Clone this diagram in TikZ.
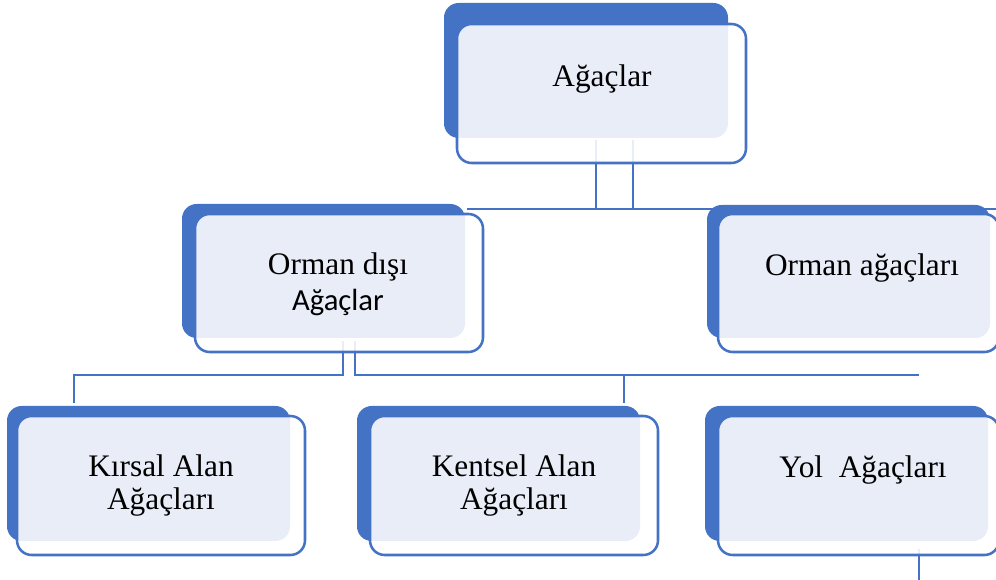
\documentclass[tikz,border=0pt]{standalone}
\usepackage{fontspec}
\setmainfont{Liberation Serif}
\newfontfamily\calib{Carlito}
\usetikzlibrary{fit}
\definecolor{accent}{HTML}{4472C4}
\begin{document}
\begin{tikzpicture}[x=0.75pt,y=-0.75pt,
  back/.style={fill=accent, draw=none, rounded corners=11pt, inner sep=0pt},
  front/.style={fill=white, fill opacity=0.88, draw=accent, line width=1.9pt, rounded corners=11pt, inner sep=0pt},
  conn/.style={draw=accent, line width=1.6pt},
  thinconn/.style={draw=accent, line width=0.9pt},
  lbl/.style={font=\fontsize{23.5}{24.75}\selectfont, text=black, inner sep=0pt, align=center}]
\useasboundingbox (0,0) rectangle (996,580);
% connector points
\coordinate (p1) at (596,140); \coordinate (p2) at (596,209);
\coordinate (p3) at (633,140); \coordinate (p4) at (633,209);
\coordinate (h1) at (467,209); \coordinate (h2) at (998,209);
\coordinate (q1) at (343,341); \coordinate (q2) at (343,375);
\coordinate (q3) at (74,375);  \coordinate (q4) at (74,403);
\coordinate (r1) at (355,341); \coordinate (r2) at (355,375);
\coordinate (r3) at (624,375); \coordinate (r4) at (624,403);
\coordinate (s1) at (919,375);
\coordinate (u1) at (919,549); \coordinate (u2) at (919,582);
% connectors
\draw[conn] (p1) -- (p2);
\draw[conn] (p3) -- (p4);
\draw[conn] (h1) -- (h2);
\draw[conn] (q1) -- (q2) -- (q3) -- (q4);
\draw[conn] (r1) -- (r2) -- (r3) -- (r4);
\draw[thinconn] (r3) -- (s1);
\draw[thinconn] (u1) -- (u2);
% back shapes
\node[back, fit={(444,3) (728,138)}] (b1) {};
\node[back, fit={(182,204) (465,338)}] (b2) {};
\node[back, fit={(707,205) (990,338)}] (b3) {};
\node[back, fit={(7,406) (290,541)}] (b4) {};
\node[back, fit={(357,406) (640,541)}] (b5) {};
\node[back, fit={(705,406) (988,541)}] (b6) {};
% front shapes
\node[front, fit={(457,24) (746,163)}] (f1) {};
\node[front, fit={(195,214) (483,352)}] (f2) {};
\node[front, fit={(718,214) (999,352)}] (f3) {};
\node[front, fit={(17,416) (305,555)}] (f4) {};
\node[front, fit={(370,416) (658,555)}] (f5) {};
\node[front, fit={(718,416) (999,555)}] (f6) {};
% labels
\node[lbl, anchor=base] (t1) at (602,87) {Ağaçlar};
\node[lbl] (t2) at (338,284) {Orman dışı\\[2.2pt]{\calib\fontsize{23}{24}\selectfont Ağaçlar}};
\node[lbl, anchor=base] (t3) at (862,276) {Orman ağaçları};
\node[lbl] (t4) at (161,486) {Kırsal Alan\\Ağaçları};
\node[lbl] (t5) at (514,486) {Kentsel Alan\\Ağaçları};
\node[lbl, anchor=base] (t6) at (863,478) {Yol\ \ Ağaçları};
\end{tikzpicture}
\end{document}
